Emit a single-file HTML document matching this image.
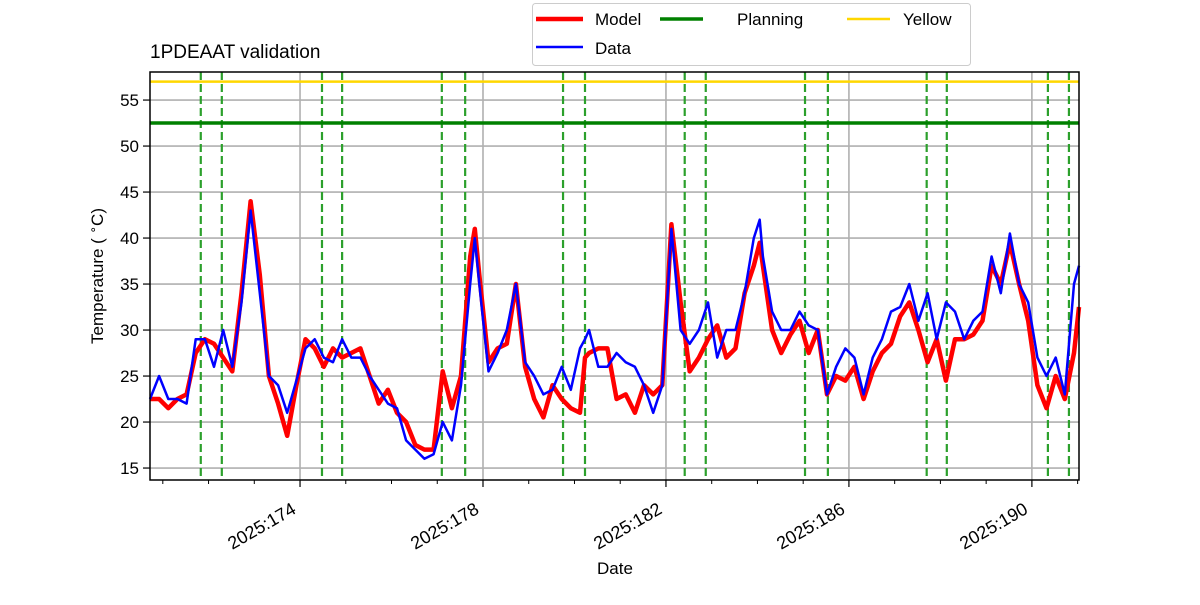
<!DOCTYPE html>
<html><head><meta charset="utf-8"><style>
body{margin:0;background:#fff;}
svg{font-family:"Liberation Sans","DejaVu Sans",sans-serif;}
</style></head><body>
<svg id="chart" width="1200" height="600" viewBox="0 0 1200 600">
<g id="grid"></g>
<g id="marks"></g>
<g id="axes"></g>
<text x="150" y="58" font-size="19">1PDEAAT validation</text>
<text x="615" y="574" font-size="17" text-anchor="middle">Date</text>
<text transform="translate(103,276) rotate(-90)" font-size="17" text-anchor="middle">Temperature ( <tspan font-size="12" dy="-6">∘</tspan><tspan dy="6">C)</tspan></text>
<g>
<rect x="532.5" y="3.5" width="438" height="62" rx="3" fill="#fff" stroke="#ccc"/>
<g><line x1="536" y1="19" x2="583" y2="19" stroke="#ff0000" stroke-width="4.5"/><text x="595" y="25" font-size="17">Model</text></g>
<g><line x1="536" y1="47" x2="583" y2="47" stroke="#0000ff" stroke-width="2.5"/><text x="595" y="54" font-size="17">Data</text></g>
<g><line x1="660" y1="19" x2="703" y2="19" stroke="#008000" stroke-width="3.5"/><text x="737" y="25" font-size="17">Planning</text></g>
<g><line x1="847" y1="19" x2="890" y2="19" stroke="#ffd700" stroke-width="2.5"/><text x="903" y="25" font-size="17">Yellow</text></g>
</g>
</svg>
<script>
const times=[170.72,170.92,171.12,171.32,171.52,171.72,171.92,172.12,172.32,172.52,172.72,172.92,173.12,173.32,173.52,173.72,173.92,174.12,174.32,174.52,174.72,174.92,175.12,175.32,175.52,175.72,175.92,176.12,176.32,176.52,176.72,176.92,177.12,177.32,177.52,177.72,177.82,177.92,178.12,178.32,178.52,178.72,178.92,179.12,179.32,179.52,179.72,179.92,180.12,180.23,180.32,180.52,180.72,180.92,181.12,181.32,181.52,181.72,181.92,182.12,182.32,182.52,182.72,182.92,183.12,183.32,183.52,183.72,183.92,184.05,184.12,184.32,184.52,184.72,184.92,185.12,185.32,185.52,185.72,185.92,186.12,186.32,186.52,186.72,186.92,187.12,187.32,187.52,187.72,187.92,188.12,188.32,188.52,188.72,188.92,189.12,189.32,189.52,189.72,189.92,190.12,190.32,190.52,190.72,190.92,191.03];
const modelTemps=[22.5,22.5,21.5,22.5,23,27.5,29,28.5,27,25.5,34,44,36,25,22,18.5,24,29,28,26,28,27,27.5,28,25,22,23.5,21,20,17.5,17,17,25.5,21.5,25,38,41,36,26.5,28,28.5,35,26,22.5,20.5,24,22.5,21.5,21,27,27.5,28,28,22.5,23,21,24,23,24,41.5,33,25.5,27,29,30.5,27,28,34,37,39.5,37,30,27.5,29.5,31,27.5,30,23,25,24.5,26,22.5,25.5,27.5,28.5,31.5,33,30,26.5,29,24.5,29,29,29.5,31,37,35,39.5,35,31,24,21.5,25,22.5,27.5,32.5];
const dataTemps=[22.5,25,22.5,22.5,22,29,29,26,30,26,33,43,34,25,24,21,24.5,28,29,27,26.5,29,27,27,25,23.5,22,21.5,18,17,16,16.5,20,18,24,35,40,35,25.5,27.5,30,35,26.5,25,23,23.5,26,23.5,28,29,30,26,26,27.5,26.5,26,24,21,24,41,30,28.5,30,33,27,30,30,34,40,42,38,32,30,30,32,30.5,30,23,26,28,27,23,27,29,32,32.5,35,31,34,29,33,32,29,31,32,38,34,40.5,35,33,27,25,27,23,35,37];
const dayTicks=[174,178,182,186,190];
const tempTicks=[15,20,25,30,35,40,45,50,55];
const eventDays=[171.83,172.29,174.48,174.92,177.10,177.61,179.75,180.23,182.41,182.87,185.04,185.54,187.70,188.14,190.35,190.81];
const planningLevel=[52.5];
const yellowLevel=[57];

const X0=150,X1=1079,Y0=72,Y1=480;
const dMin=170.72,dMax=191.03,tMin=13.7,tMax=58.05;
const xs=d=>X0+(d-dMin)/(dMax-dMin)*(X1-X0);
const ys=t=>Y1-(t-tMin)/(tMax-tMin)*(Y1-Y0);
const NS='http://www.w3.org/2000/svg';
function mk(tag,parent,attrs){const e=document.createElementNS(NS,tag);for(const k in attrs)e.setAttribute(k,attrs[k]);parent.appendChild(e);return e;}
const grid=document.getElementById('grid'),marks=document.getElementById('marks'),axes=document.getElementById('axes');
dayTicks.forEach(d=>{
 const g=mk('line',grid,{x1:xs(d),x2:xs(d),y1:Y0,y2:Y1,stroke:'#b0b0b0','stroke-width':1.6});
 
 
 const t=mk('line',axes,{x1:xs(d),x2:xs(d),y1:Y1,y2:Y1+7,stroke:'#000','stroke-width':1.2});
 
 
 const lb=mk('text',axes,{transform:`translate(${xs(d)-10},${Y1+20}) rotate(-30)`,'font-size':18,'text-anchor':'end',dy:'0.8em'});
 lb.textContent='2025:'+d;
 
 
});
for(let d=Math.ceil(dMin);d<=dMax;d++){
 if(dayTicks.includes(d))continue;
 const m=mk('line',axes,{x1:xs(d),x2:xs(d),y1:Y1,y2:Y1+4,stroke:'#000','stroke-width':1});
 
 
}
tempTicks.forEach(v=>{
 const g=mk('line',grid,{x1:X0,x2:X1,y1:ys(v),y2:ys(v),stroke:'#b0b0b0','stroke-width':1.6});
 
 
 const t=mk('line',axes,{x1:X0-7,x2:X0,y1:ys(v),y2:ys(v),stroke:'#000','stroke-width':1.2});
 
 
 const lb=mk('text',axes,{x:X0-11,y:ys(v)+6,'font-size':17,'text-anchor':'end'});
 lb.textContent=v;
 
 
});
eventDays.forEach(d=>{
 const l=mk('line',marks,{x1:xs(d),x2:xs(d),y1:Y0,y2:Y1,stroke:'#2ca02c','stroke-width':2.2,'stroke-dasharray':'8,4'});
 
 
});
planningLevel.forEach(v=>{
 const l=mk('line',marks,{x1:X0,x2:X1,y1:ys(v),y2:ys(v),stroke:'#008000','stroke-width':3.5});
 
 
});
yellowLevel.forEach(v=>{
 const l=mk('line',marks,{x1:X0,x2:X1,y1:ys(v),y2:ys(v),stroke:'#ffd700','stroke-width':2.5});
 
 
});
const pts=a=>a.map((v,i)=>xs(times[i]).toFixed(1)+','+ys(v).toFixed(1)).join(' ');
const mline=mk('polyline',marks,{points:pts(modelTemps),fill:'none',stroke:'#ff0000','stroke-width':4.5,'stroke-linejoin':'round'});


const dline=mk('polyline',marks,{points:pts(dataTemps),fill:'none',stroke:'#0000ff','stroke-width':2.5,'stroke-linejoin':'round'});


const fr=mk('rect',axes,{x:X0,y:Y0,width:X1-X0,height:Y1-Y0,fill:'none',stroke:'#000','stroke-width':1.5});


</script>
</body></html>
